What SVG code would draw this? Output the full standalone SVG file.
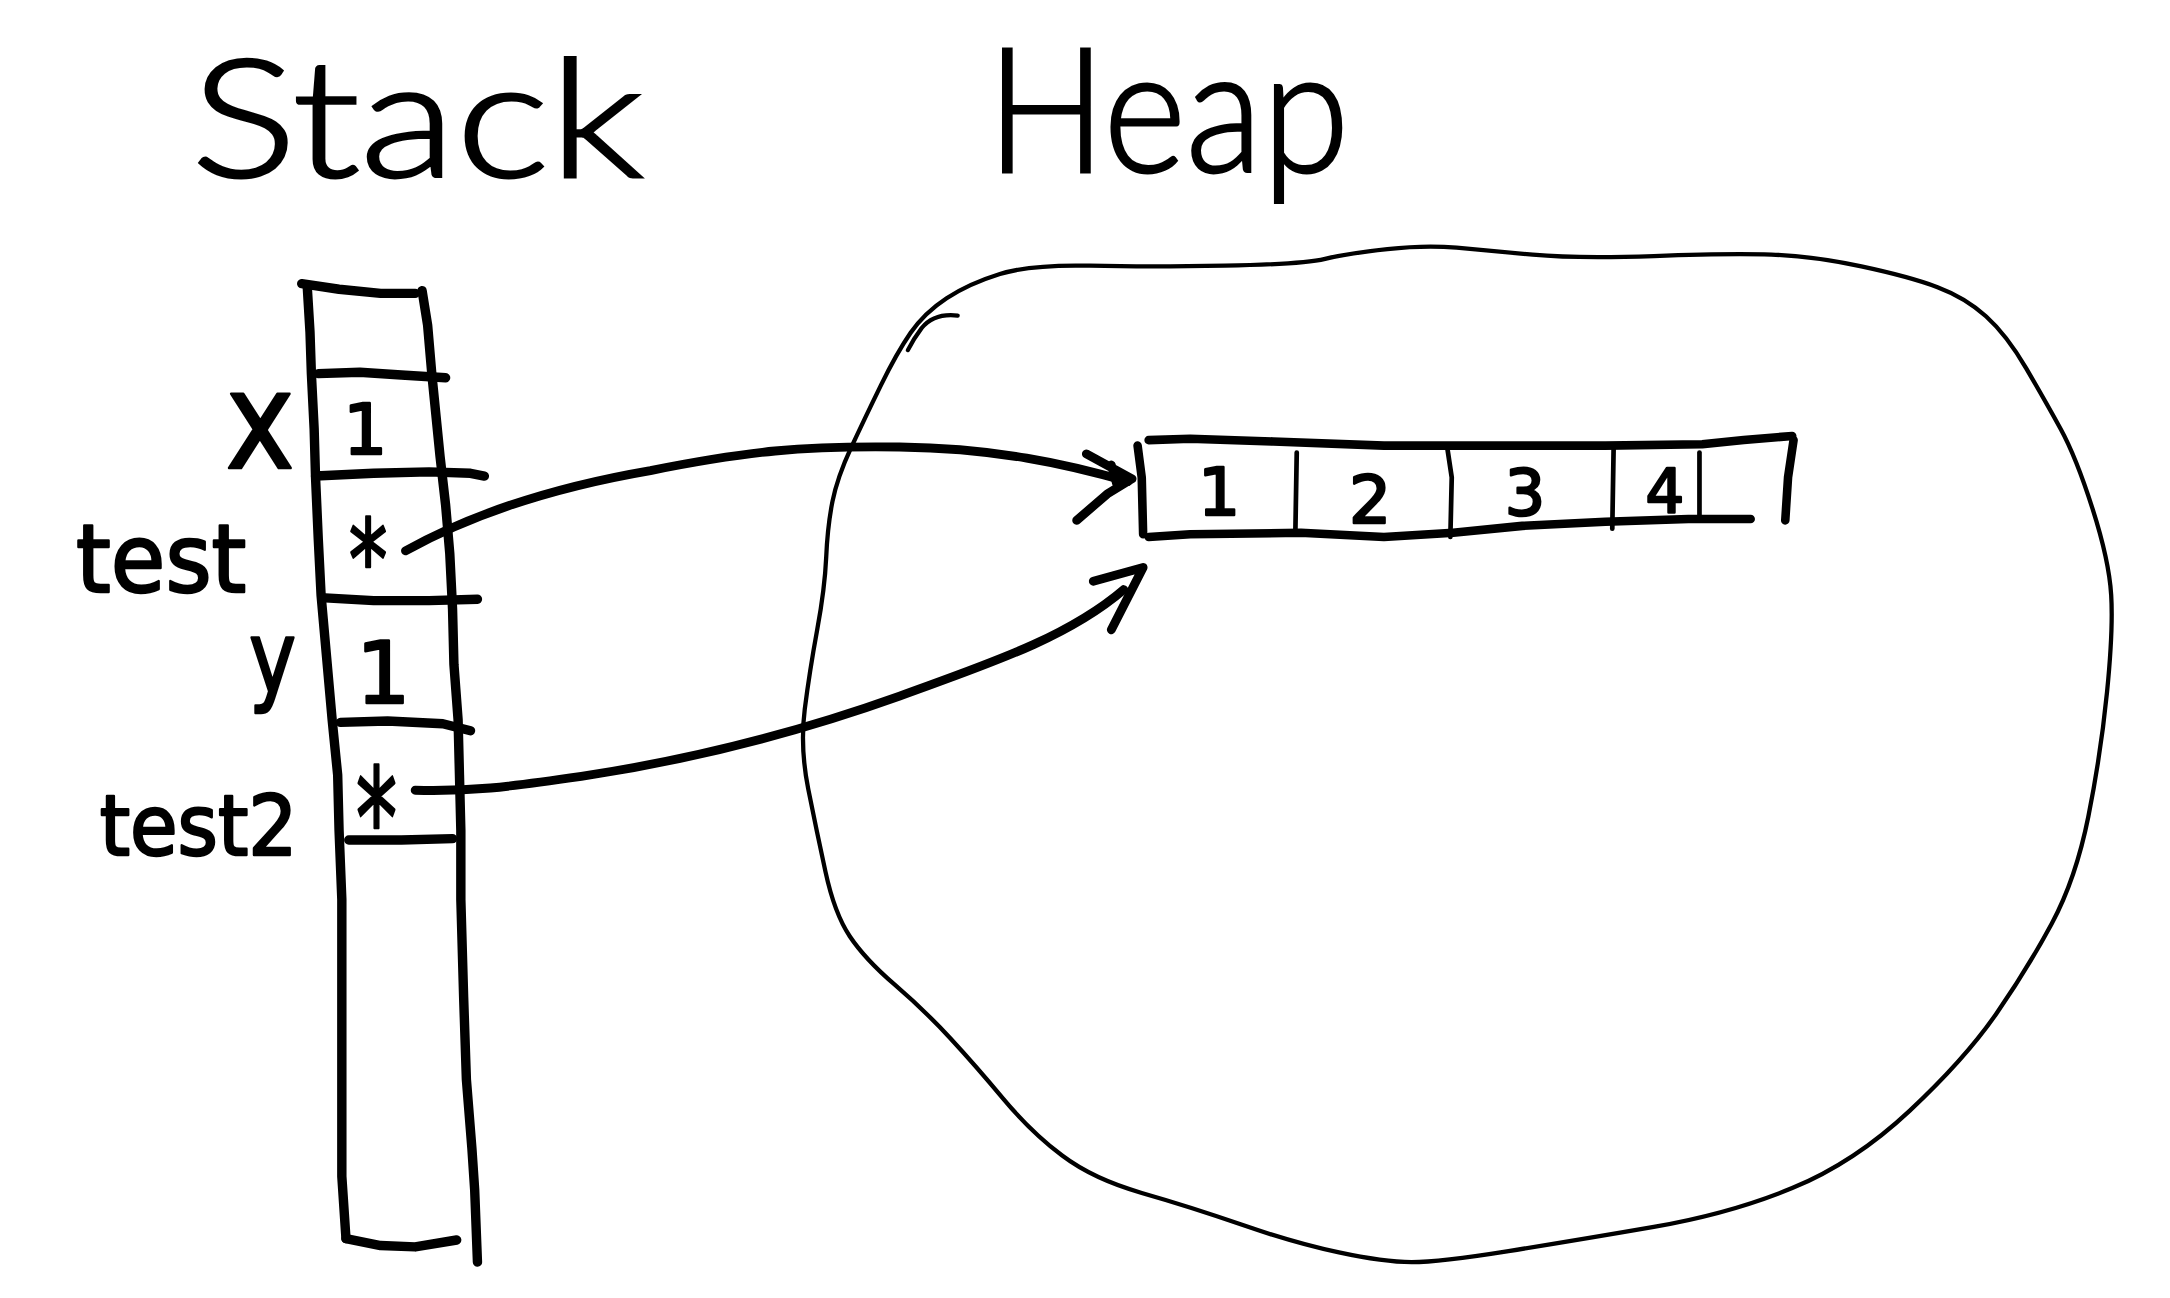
<svg xmlns="http://www.w3.org/2000/svg" width="2170" height="1298" viewBox="0 0 2170 1298">
<style>
.ln{fill:none;stroke:#000;stroke-linecap:round;stroke-linejoin:round}
.thick{stroke-width:6.8}
.arr{stroke-width:6.4}
.mid{stroke-width:6.2}
.thin{stroke-width:3.4}
.blob{stroke-width:3.1}
.title{font-family:Lato,"Liberation Sans",sans-serif;font-weight:300;fill:#000;stroke:#000;stroke-width:2}
.hw{font-family:"DejaVu Sans","Liberation Sans",sans-serif;fill:#000;stroke:#000;stroke-width:1.8;stroke-linejoin:round}
</style>
<rect width="2170" height="1298" fill="#fff"/>
<g transform="scale(1.38393)">
  <g id="title-stack">
    <text class="title" x="138" y="128" font-size="119" textLength="327" lengthAdjust="spacingAndGlyphs">Stack</text>
  </g>
  <g id="title-heap">
    <text class="title" x="713" y="124" font-size="125" textLength="262" lengthAdjust="spacingAndGlyphs">Heap</text>
  </g>
  <g id="heap">
    <path class="ln blob" d="M722.5,198 Q700,205 684,215.5 Q668,226 658,240.5 Q648,255 636.5,278.5 Q625,302 615,323.5 Q605,345 601.5,362.5 Q598,380 597,402.5 Q596,425 590.5,455 Q585,485 581.5,512.5 Q578,540 584,570 Q590,600 596.5,630 Q603,660 614,676.5 Q625,693 646.5,711.5 Q668,730 686.5,750 Q705,770 725,794 Q745,818 767.5,835 Q790,852 825,862 Q860,872 897.5,885 Q935,898 967.5,905 Q1000,912 1020,912 Q1040,912 1090,904 Q1140,896 1195,886.5 Q1250,877 1295,858.5 Q1340,840 1380,802.5 Q1420,765 1442.5,732.5 Q1465,700 1482.5,667.5 Q1500,635 1509,590 Q1518,545 1522.5,500 Q1527,455 1525.5,430 Q1524,405 1512,367.5 Q1500,330 1489,310 Q1478,290 1464,266 Q1450,242 1435,228.5 Q1420,215 1400,207.5 Q1380,200 1345,192.5 Q1310,185 1280,184 Q1250,183 1195,185 Q1140,187 1107.5,184 Q1075,181 1052.5,179 Q1030,177 1002.5,180 Q975,183 957.5,187 Q940,191 885,192 Q830,193 787.5,192 Q745,191 722.5,198 Z"/>
    <path class="ln blob" d="M692,228 Q675,226 666,237 Q660,245 656,253"/>
  </g>
  <g id="stack">
    <path class="ln thick" d="M218,205 L245,209 L275,212 L300,212"/>
    <path class="ln thick" d="M222,207 L224,240 L225,270 L227,310 L228,345 L230,390 L232,430 L236,475 L240,520 L244,560 L245,600 L247,650 L247,700 L247,780 L247,850 L250,895"/>
    <path class="ln thick" d="M305,210 L309,235 L312,270 L315,300 L318,330 L322,365 L325,400 L327,440 L328,480 L331,520 L332,560 L333,600 L333,650 L335,720 L337,780 L341,830 L343,860 L345,912"/>
    <path class="ln thick" d="M250,895 L275,900 L300,901 L330,896"/>
    <path class="ln thick" d="M230,270 L260,269 L290,271 L322,273"/>
    <path class="ln thick" d="M228,344 L270,342 L310,341 L340,342 L350,344"/>
    <path class="ln thick" d="M235,432 L270,434 L310,434 L345,433"/>
    <path class="ln thick" d="M246,522 L280,521 L320,523 L340,528"/>
    <path class="ln thick" d="M252,607 L290,607 L327,606"/>
    <text class="hw" x="264" y="328" font-size="50" text-anchor="middle">1</text>
    <text class="hw" x="252" y="433" font-size="80" textLength="28" lengthAdjust="spacingAndGlyphs">*</text>
    <text class="hw" x="277" y="508" font-size="62" text-anchor="middle">1</text>
    <text class="hw" x="257" y="627" font-size="100" textLength="30" lengthAdjust="spacingAndGlyphs">*</text>
  </g>
  <g id="labels">
    <text class="hw" x="163" y="338" font-size="98" textLength="50" lengthAdjust="spacingAndGlyphs">x</text>
    <text class="hw" x="55" y="428" font-size="68" textLength="123" lengthAdjust="spacingAndGlyphs">test</text>
    <text class="hw" x="180" y="500" font-size="72" textLength="34" lengthAdjust="spacingAndGlyphs">y</text>
    <text class="hw" x="72" y="618" font-size="60" textLength="143" lengthAdjust="spacingAndGlyphs">test2</text>
  </g>
  <g id="array">
    <path class="ln mid" d="M830,318 L860,317 L920,319 L1000,322 L1080,322 L1160,322 L1230,321 L1260,318 L1295,315"/>
    <path class="ln mid" d="M822,322 L825,345 L826,386"/>
    <path class="ln mid" d="M830,388 L860,386 L940,385 L1000,388 L1050,385 L1100,380 L1160,377 L1220,375 L1265,375"/>
    <path class="ln mid" d="M1296,318 L1292,345 L1290,376"/>
    <path class="ln thin" d="M937,327 L936,385"/>
    <path class="ln thin" d="M1046,325 L1049,345 L1048,388"/>
    <path class="ln thin" d="M1166,322 L1165,382"/>
    <path class="ln thin" d="M1228,327 L1228,373"/>
    <text class="hw" x="881" y="372" font-size="48" text-anchor="middle">1</text>
    <text class="hw" x="990" y="378" font-size="48" text-anchor="middle">2</text>
    <text class="hw" x="1102" y="372" font-size="46" text-anchor="middle">3</text>
    <text class="hw" x="1203" y="370" font-size="44" text-anchor="middle">4</text>
  </g>
  <g id="connectors">
    <path class="ln arr" d="M293,398 C340,372 400,352 470,340 C540,326 580,322 650,323 C720,324 770,335 815,348"/>
    <path class="ln arr" d="M785,328 L818,346 L800,357 L778,376 M803,336 L807,350"/>
    <path class="ln arr" d="M300,571 C340,572 365,569 420,561 C500,549 580,528 650,503 C710,481 770,462 812,426"/>
    <path class="ln arr" d="M790,420 L826,410 L803,455"/>
  </g>
</g>
</svg>
